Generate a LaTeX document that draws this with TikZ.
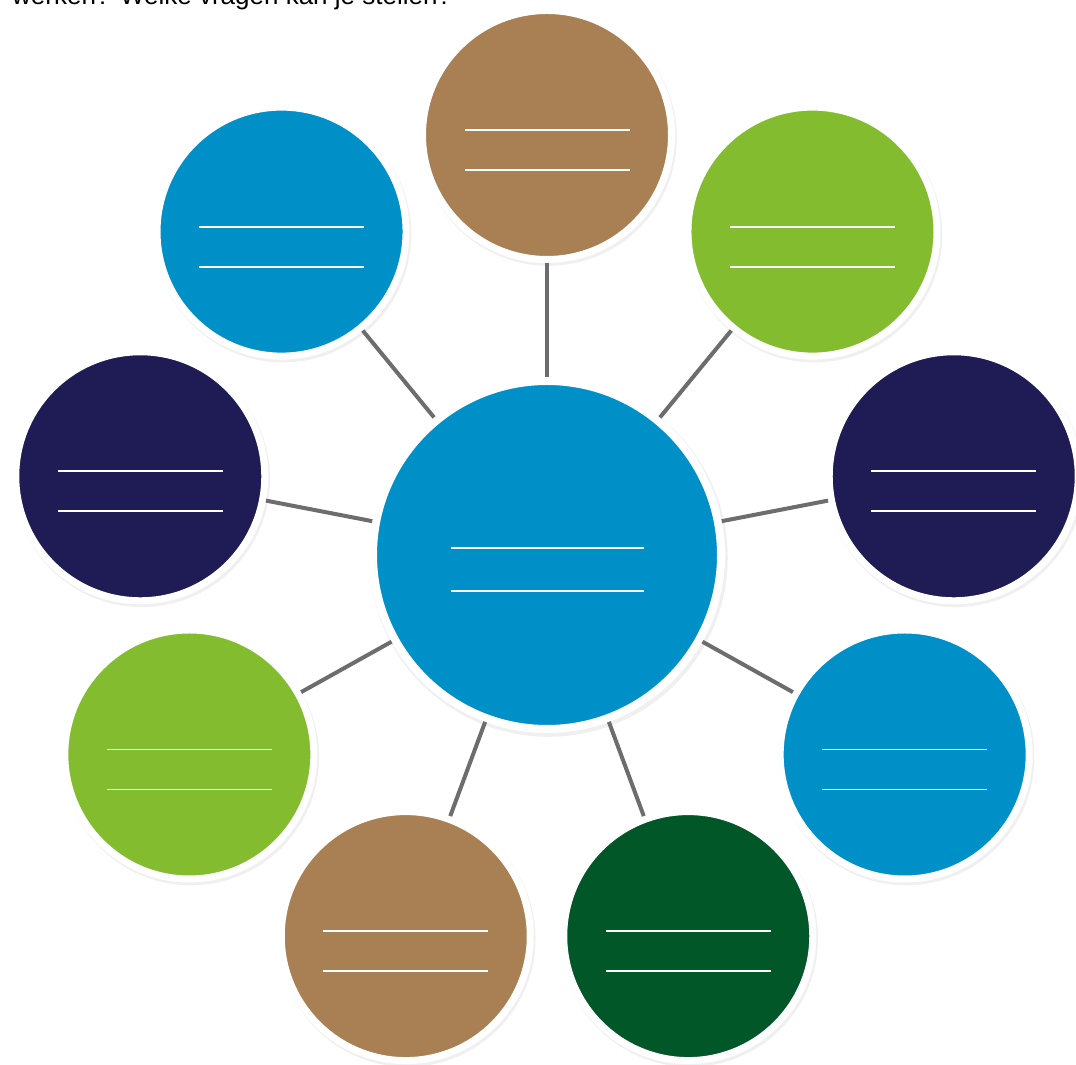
\documentclass[tikz,border=0pt]{standalone}
\usepackage{fontspec}
\setmainfont{Liberation Sans}
\usetikzlibrary{calc,shadows}

\definecolor{brn}{RGB}{169,128,84}
\definecolor{grn}{RGB}{132,188,48}
\definecolor{navy}{RGB}{31,27,84}
\definecolor{hubblue}{RGB}{0,144,200}
\definecolor{dkgrn}{RGB}{2,87,41}
\definecolor{spokegray}{RGB}{109,109,111}

\begin{document}
\begin{tikzpicture}[x=1pt,y=1pt]
  \tikzset{
    disc/.style={circle,draw=white,line width=7pt,minimum size=249pt,inner sep=0pt,
      drop shadow={opacity=0.12,shadow scale=1.03,shadow xshift=1.5pt,shadow yshift=-2.5pt}},
    spoke/.style={draw=spokegray,line width=4pt},
    blank/.style={draw=white,line width=1.8pt}
  }
  \useasboundingbox (0,0) rectangle (1076,1065);
  \clip (0,0) rectangle (1076,1065);
  \node[anchor=base west,font=\fontsize{26}{30}\selectfont,inner sep=0pt] (intro) at (12,1060.5) {werken? Welke vragen kan je stellen?};
  \coordinate (ring) at (547,517);
  \node[disc,fill=hubblue,line width=8pt,minimum size=348pt] (hub) at (547,510) {};
  \draw[blank] ($(hub)+(-96.5,7)$) -- ++(193,0);
  \draw[blank] ($(hub)+(-96.5,-36)$) -- ++(193,0);
  \foreach[count=\i] \a/\c in {90/brn,50/grn,10/navy,-30/hubblue,-70/dkgrn,-110/brn,-150/grn,-190/navy,-230/hubblue} {
    \node[disc,fill=\c] (s\i) at ($(ring)+(\a:413)$) {};
    \draw[spoke] (hub) -- (s\i);
    \draw[blank] ($(s\i)+(-82.5,5)$) -- ++(165,0);
    \draw[blank] ($(s\i)+(-82.5,-35)$) -- ++(165,0);
  }
\end{tikzpicture}
\end{document}
